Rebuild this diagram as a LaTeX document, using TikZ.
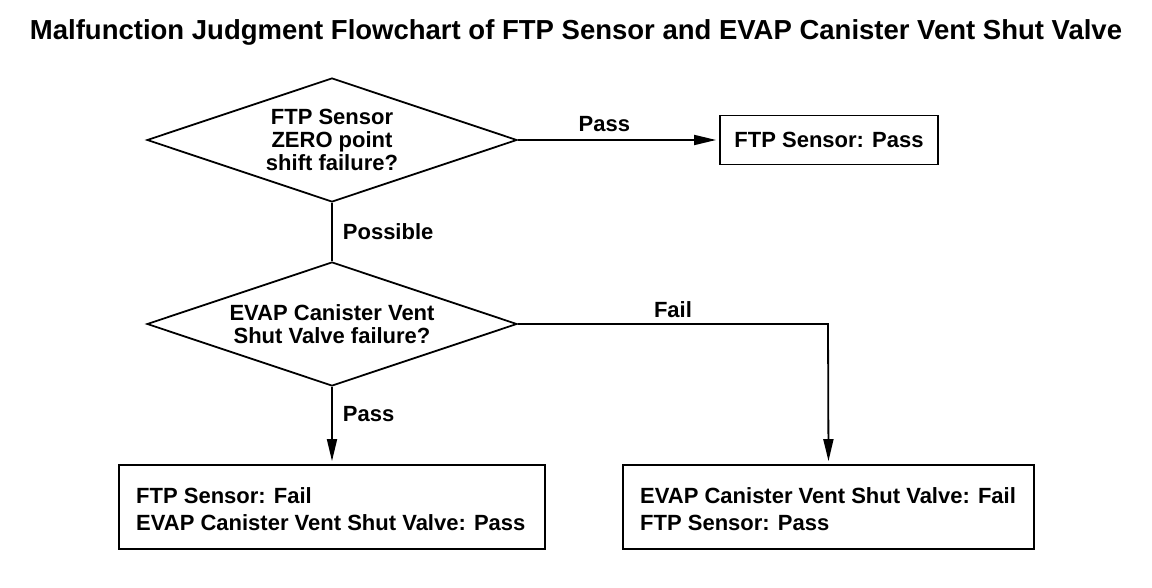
\documentclass[tikz,border=0pt]{standalone}
\usepackage{fontspec}
\setmainfont{Liberation Sans}
\usetikzlibrary{shapes.geometric,arrows.meta}
\begin{document}
\begin{tikzpicture}[x=1pt,y=-1pt,
  every node/.style={font=\fontsize{22}{23}\selectfont\bfseries},
  line/.style={line width=1.8pt},
  arr/.style={line, -{Triangle[length=22pt,width=10pt]}, shorten >=3pt},
  lbl/.style={inner sep=0pt},
  decision/.style={draw, line width=1.8pt, diamond, aspect=3, inner sep=0pt, minimum width=370pt, minimum height=124pt, align=center},
  result/.style={draw, line width=1.8pt, inner sep=0pt}
]
\useasboundingbox (0,0) rectangle (1152,588);
\node[lbl, font=\fontsize{27.5}{30}\selectfont\bfseries] (title) at (576,32) {Malfunction Judgment Flowchart of FTP Sensor and EVAP Canister Vent Shut Valve};

\node[decision] (d1) at (332,140) {FTP Sensor\\ZERO point\\shift failure?};
\node[decision] (d2) at (332,324) {EVAP Canister Vent\\Shut Valve failure?};

\node[result, minimum width=218pt, minimum height=49pt] (r1) at (829,140) {FTP Sensor: Pass};
\node[result, minimum width=426pt, minimum height=84pt] (r2) at (332,507) {};
\node[result, minimum width=411pt, minimum height=84pt] (r3) at (828.5,507) {};
\node[lbl, anchor=west, align=left, font=\fontsize{22}{27}\selectfont\bfseries] (t2) at (136,509) {FTP Sensor: Fail\\EVAP Canister Vent Shut Valve: Pass};
\node[lbl, anchor=west, align=left, font=\fontsize{22}{27}\selectfont\bfseries] (t3) at (640,509) {EVAP Canister Vent Shut Valve: Fail\\FTP Sensor: Pass};

\coordinate (c1) at (828,324);

\draw[arr] (d1.east) -- (r1.west) node[lbl, pos=0.43, above=7pt] (l1) {Pass};
\draw[line] (d1.south) -- (d2.north) node[lbl, pos=0.5, right=10pt] (l2) {Possible};
\draw[arr] (d2.south) -- (r2.north) node[lbl, pos=0.35, right=10pt] (l3) {Pass};
\draw[arr] (d2.east) -- (c1) -- (r3.north);
\node[lbl] (l4) at (673,310) {Fail};
\end{tikzpicture}
\end{document}
